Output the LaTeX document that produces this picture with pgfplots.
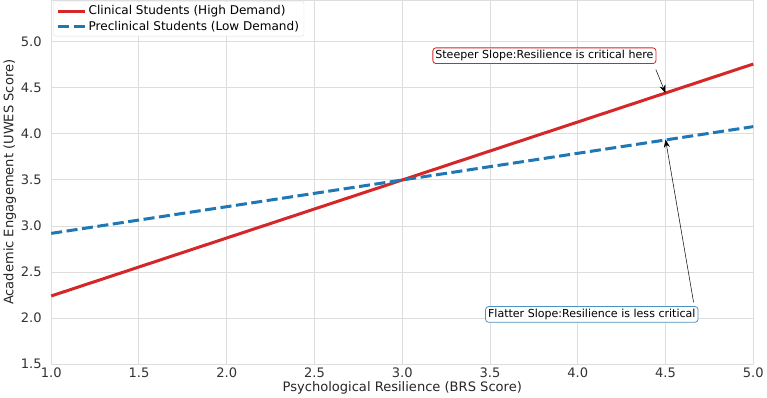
\documentclass[border=0pt]{standalone}
\usepackage{pgfplots}
\pgfplotsset{compat=1.18}
\usepackage{fontspec}
\setmainfont{DejaVu Sans}
\usetikzlibrary{arrows.meta}
\definecolor{cred}{HTML}{D62728}
\definecolor{cblue}{HTML}{1F77B4}
\definecolor{gridc}{HTML}{DDDDDD}
\begin{document}
\begin{tikzpicture}[x=1pt,y=1pt]
\begin{axis}[
  scale only axis,
  width=699pt, height=362pt,
  xmin=1, xmax=5, ymin=1.5, ymax=5.45,
  xtick={1,1.5,...,5}, ytick={1.5,2,...,5},
  xticklabel style={/pgf/number format/fixed,/pgf/number format/fixed zerofill,/pgf/number format/precision=1},
  yticklabel style={/pgf/number format/fixed,/pgf/number format/fixed zerofill,/pgf/number format/precision=1, xshift=-6pt},
  /pgf/number format/assume math mode=true,
  tick label style={font=\fontsize{13}{15}\selectfont, text=black!80},
  label style={font=\fontsize{13}{15}\selectfont, text=black!85},
  xlabel={Psychological Resilience (BRS Score)},
  ylabel={Academic Engagement (UWES Score)},
  xlabel style={yshift=3pt},
  ylabel style={yshift=-2pt},
  grid=major,
  major grid style={gridc, line width=1pt},
  axis line style={gridc, line width=1pt},
  tick style={draw=none},
  legend style={font=\fontsize{12}{14}\selectfont, draw=gridc, rounded corners=2pt, fill=white, at={(0.003,0.997)}, anchor=north west, row sep=1pt, inner xsep=3pt, inner ysep=2pt},
  legend cell align=left,
  legend image code/.code={\draw[#1] (0pt,0pt) -- (27pt,0pt);},
  clip=false,
]
\addplot[cred, line width=3pt] coordinates {(1,2.24) (5,4.76)};
\addlegendentry{Clinical Students (High Demand)}
\addplot[cblue, line width=3pt, dash pattern=on 11pt off 4.5pt] coordinates {(1,2.92) (5,4.08)};
\addlegendentry{Preclinical Students (Low Demand)}
\node[draw=cred, line width=0.8pt, rounded corners=3pt, fill=white, inner sep=2.5pt, font=\fontsize{11}{13}\selectfont] (a) at (axis cs:3.81,4.85) {Steeper Slope:Resilience is critical here};
\draw[-{Stealth[length=8pt,width=6pt]}, black, line width=0.5pt] (axis cs:4.445,4.70) -- (axis cs:4.5,4.445);
\node[draw=cblue!80, line width=0.8pt, rounded corners=3pt, fill=white, inner sep=2.5pt, font=\fontsize{11}{13}\selectfont] (b) at (axis cs:4.08,2.04) {Flatter Slope:Resilience is less critical};
\draw[-{Stealth[length=8pt,width=6pt]}, black, line width=0.5pt] (axis cs:4.66,2.17) -- (axis cs:4.5,3.94);
\end{axis}
\end{tikzpicture}
\end{document}
